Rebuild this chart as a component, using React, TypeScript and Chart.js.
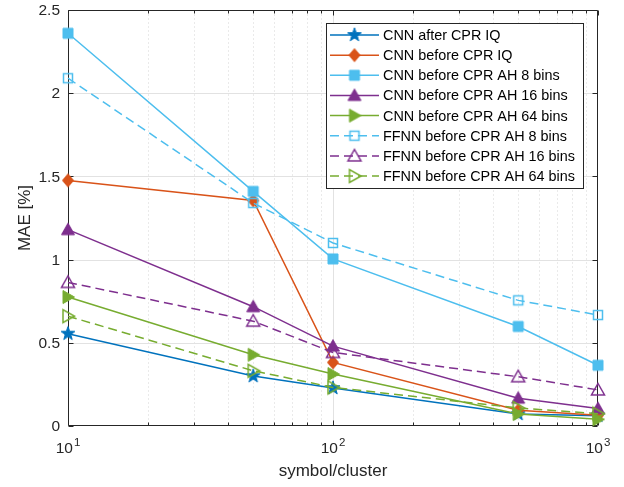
import React, { useEffect, useRef } from 'react';
import { Chart, registerables } from 'chart.js';

Chart.register(...registerables);

// ---------- data ----------
const xValues = [10, 50, 100, 500, 1000];

const seriesLabels = [
  'CNN after CPR IQ',
  'CNN before CPR IQ',
  'CNN before CPR AH 8 bins',
  'CNN before CPR AH 16 bins',
  'CNN before CPR AH 64 bins',
  'FFNN before CPR AH 8 bins',
  'FFNN before CPR AH 16 bins',
  'FFNN before CPR AH 64 bins',
];

const cnnAfterIQ = [0.555, 0.3, 0.228, 0.072, 0.062];
const cnnBeforeIQ = [1.476, 1.355, 0.382, 0.095, 0.064];
const cnnAH8 = [2.36, 1.41, 1.004, 0.598, 0.365];
const cnnAH16 = [1.18, 0.717, 0.48, 0.167, 0.105];
const cnnAH64 = [0.775, 0.428, 0.312, 0.072, 0.04];
const ffnnAH8 = [2.09, 1.34, 1.1, 0.755, 0.667];
const ffnnAH16 = [0.863, 0.63, 0.442, 0.296, 0.217];
const ffnnAH64 = [0.66, 0.332, 0.232, 0.108, 0.074];

const seriesValues = [cnnAfterIQ, cnnBeforeIQ, cnnAH8, cnnAH16, cnnAH64, ffnnAH8, ffnnAH16, ffnnAH64];

const yTicks = [0, 0.5, 1, 1.5, 2, 2.5];
const yTickLabels = ['0', '0.5', '1', '1.5', '2', '2.5'];
const xMajorTicks = [10, 100, 1000];
const xMajorExponents = ['1', '2', '3'];
const xMinorTicks = [20, 30, 40, 50, 60, 70, 80, 90, 200, 300, 400, 500, 600, 700, 800, 900];

const xTitle = 'symbol/cluster';
const yTitle = 'MAE [%]';

// ---------- styles ----------
const FONT = '"Liberation Sans", Arial, Helvetica, sans-serif';
const AXIS_COLOR = '#262626';
const seriesColors = ['#0072BD', '#D95319', '#4DBEEE', '#7E2F8E', '#77AC30', '#4DBEEE', '#7E2F8E', '#77AC30'];
const seriesMarkers = ['star', 'diamond', 'square', 'triUp', 'triRight', 'square', 'triUp', 'triRight'];
const seriesFilled = [true, true, true, true, true, false, false, false];
const seriesDashed = [false, false, false, false, false, true, true, true];
const DASH = [9, 5];

function makeMarker(kind: string, color: string, filled: boolean): HTMLCanvasElement {
  const size = 20;
  const c = document.createElement('canvas');
  c.width = size;
  c.height = size;
  const ctx = c.getContext('2d')!;
  const cx = size / 2;
  const cy = size / 2;
  ctx.beginPath();
  if (kind === 'star') {
    const ro = 7.2;
    const ri = 2.9;
    for (let i = 0; i < 10; i++) {
      const r = i % 2 === 0 ? ro : ri;
      const ang = -Math.PI / 2 + (i * Math.PI) / 5;
      const px = cx + r * Math.cos(ang);
      const py = cy + r * Math.sin(ang);
      if (i === 0) ctx.moveTo(px, py);
      else ctx.lineTo(px, py);
    }
    ctx.closePath();
  } else if (kind === 'diamond') {
    ctx.moveTo(cx, cy - 6.5);
    ctx.lineTo(cx + 5.5, cy);
    ctx.lineTo(cx, cy + 6.5);
    ctx.lineTo(cx - 5.5, cy);
    ctx.closePath();
  } else if (kind === 'square') {
    const h = filled ? 5 : 4.5;
    ctx.rect(cx - h, cy - h, 2 * h, 2 * h);
  } else if (kind === 'triUp') {
    ctx.moveTo(cx, cy - 6.5);
    ctx.lineTo(cx + 6.5, cy + 5);
    ctx.lineTo(cx - 6.5, cy + 5);
    ctx.closePath();
  } else if (kind === 'triRight') {
    ctx.moveTo(cx + 6.5, cy);
    ctx.lineTo(cx - 5, cy + 6.5);
    ctx.lineTo(cx - 5, cy - 6.5);
    ctx.closePath();
  }
  ctx.lineJoin = 'miter';
  if (filled) {
    ctx.fillStyle = color;
    ctx.fill();
    ctx.strokeStyle = color;
    ctx.lineWidth = 1;
    ctx.stroke();
  } else {
    ctx.strokeStyle = color;
    ctx.lineWidth = 1.5;
    ctx.stroke();
  }
  return c;
}

function drawPowerLabel(ctx: CanvasRenderingContext2D, cx: number, baseY: number, exp: string) {
  const baseFont = `15.5px ${FONT}`;
  const supFont = `11.5px ${FONT}`;
  ctx.font = baseFont;
  const wBase = ctx.measureText('10').width;
  ctx.font = supFont;
  const wSup = ctx.measureText(exp).width;
  const total = wBase + 1 + wSup;
  const x0 = cx - total / 2;
  ctx.textAlign = 'left';
  ctx.textBaseline = 'alphabetic';
  ctx.font = baseFont;
  ctx.fillText('10', x0, baseY);
  ctx.font = supFont;
  ctx.fillText(exp, x0 + wBase + 1, baseY - 7);
}

const matlabAxesPlugin = {
  id: 'matlabAxes',
  beforeDatasetsDraw(chart: any) {
    const { ctx, chartArea: a, scales } = chart;
    const x = scales.x;
    const y = scales.y;
    const L = Math.round(a.left) + 0.5;
    const R = Math.round(a.right) - 0.5;
    const T = Math.round(a.top) + 0.5;
    const B = Math.round(a.bottom) - 0.5;
    ctx.save();
    ctx.lineWidth = 1;

    // minor grid (dotted)
    ctx.strokeStyle = '#d4d4d4';
    ctx.setLineDash([1, 3]);
    ctx.beginPath();
    for (const v of xMinorTicks) {
      const px = Math.round(x.getPixelForValue(v)) + 0.5;
      ctx.moveTo(px, T);
      ctx.lineTo(px, B);
    }
    ctx.stroke();

    // major grid
    ctx.setLineDash([]);
    ctx.strokeStyle = '#e2e2e2';
    ctx.beginPath();
    for (const v of xMajorTicks) {
      const px = Math.round(x.getPixelForValue(v)) + 0.5;
      if (px <= L + 1 || px >= R - 1) continue;
      ctx.moveTo(px, T);
      ctx.lineTo(px, B);
    }
    for (const v of yTicks) {
      const py = Math.round(y.getPixelForValue(v)) + 0.5;
      if (py <= T + 1 || py >= B - 1) continue;
      ctx.moveTo(L, py);
      ctx.lineTo(R, py);
    }
    ctx.stroke();

    // frame
    ctx.strokeStyle = AXIS_COLOR;
    ctx.beginPath();
    ctx.rect(L, T, R - L, B - T);
    ctx.stroke();

    // tick marks (inward)
    ctx.beginPath();
    for (const v of yTicks) {
      const py = Math.round(y.getPixelForValue(v)) + 0.5;
      ctx.moveTo(L, py);
      ctx.lineTo(L + 5, py);
      ctx.moveTo(R, py);
      ctx.lineTo(R - 5, py);
    }
    for (const v of xMajorTicks) {
      const px = Math.round(x.getPixelForValue(v)) + 0.5;
      ctx.moveTo(px, B);
      ctx.lineTo(px, B - 5);
      ctx.moveTo(px, T);
      ctx.lineTo(px, T + 5);
    }
    for (const v of xMinorTicks) {
      const px = Math.round(x.getPixelForValue(v)) + 0.5;
      ctx.moveTo(px, B);
      ctx.lineTo(px, B - 3);
      ctx.moveTo(px, T);
      ctx.lineTo(px, T + 3);
    }
    ctx.stroke();

    // tick labels
    ctx.fillStyle = AXIS_COLOR;
    ctx.font = `15.5px ${FONT}`;
    ctx.textAlign = 'right';
    ctx.textBaseline = 'middle';
    yTicks.forEach((v, i) => {
      const py = y.getPixelForValue(v);
      ctx.fillText(yTickLabels[i], a.left - 8, py + 1);
    });
    xMajorTicks.forEach((v, i) => {
      const px = x.getPixelForValue(v);
      drawPowerLabel(ctx, px, a.bottom + 27, xMajorExponents[i]);
    });

    // axis titles
    ctx.font = `17px ${FONT}`;
    ctx.textAlign = 'center';
    ctx.textBaseline = 'middle';
    ctx.fillText(xTitle, (a.left + a.right) / 2, a.bottom + 45);
    ctx.save();
    ctx.translate(25, (a.top + a.bottom) / 2);
    ctx.rotate(-Math.PI / 2);
    ctx.fillText(yTitle, 0, 0);
    ctx.restore();

    ctx.restore();
  },
  afterDatasetsDraw(chart: any) {
    const { ctx, chartArea: a } = chart;
    const datasets = chart.data.datasets;
    const boxRight = a.right - 15;
    const boxTop = a.top + 13;
    const rowH = 20.15;
    const boxW = 257;
    const boxH = 165;
    const boxLeft = boxRight - boxW;
    ctx.save();
    ctx.fillStyle = '#ffffff';
    ctx.fillRect(boxLeft, boxTop, boxW, boxH);
    ctx.strokeStyle = AXIS_COLOR;
    ctx.lineWidth = 1;
    ctx.setLineDash([]);
    ctx.strokeRect(Math.round(boxLeft) + 0.5, Math.round(boxTop) + 0.5, Math.round(boxW), Math.round(boxH));
    ctx.font = `14.4px ${FONT}`;
    ctx.textAlign = 'left';
    ctx.textBaseline = 'middle';
    datasets.forEach((ds: any, i: number) => {
      const cy = boxTop + 12 + i * rowH;
      const x1 = boxLeft + 4;
      const x2 = boxLeft + 53;
      ctx.strokeStyle = ds.borderColor;
      ctx.lineWidth = ds.borderWidth;
      ctx.setLineDash(ds.borderDash || []);
      ctx.beginPath();
      ctx.moveTo(x1, cy);
      ctx.lineTo(x2, cy);
      ctx.stroke();
      ctx.setLineDash([]);
      const m = ds.pointStyle as HTMLCanvasElement;
      ctx.drawImage(m, (x1 + x2) / 2 - m.width / 2, cy - m.height / 2);
      ctx.fillStyle = '#000000';
      ctx.fillText(ds.label, boxLeft + 57, cy + 1);
    });
    ctx.restore();
  },
};

export default function App() {
  const canvasRef = useRef<HTMLCanvasElement | null>(null);

  useEffect(() => {
    const canvas = canvasRef.current;
    if (!canvas) return;
    const datasets = seriesLabels.map((label, i) => {
      const marker = makeMarker(seriesMarkers[i], seriesColors[i], seriesFilled[i]);
      return {
        label,
        data: xValues.map((xv, j) => ({ x: xv, y: seriesValues[i][j] })),
        borderColor: seriesColors[i],
        backgroundColor: seriesColors[i],
        borderWidth: 1.5,
        borderDash: seriesDashed[i] ? DASH : [],
        pointStyle: marker,
        pointRadius: 6,
        pointHoverRadius: 6,
        tension: 0,
        fill: false,
        clip: false as any,
        order: seriesLabels.length - i,
      };
    });

    const chart = new Chart(canvas, {
      type: 'line',
      data: { datasets },
      options: {
        responsive: false,
        animation: false,
        devicePixelRatio: 1,
        events: [],
        layout: { padding: { left: 68, right: 26, top: 10, bottom: 61 } },
        plugins: {
          legend: { display: false },
          tooltip: { enabled: false },
          title: { display: false },
        },
        scales: {
          x: { type: 'logarithmic', min: 10, max: 1000, display: false },
          y: { type: 'linear', min: 0, max: 2.5, display: false },
        },
      },
      plugins: [matlabAxesPlugin],
    });
    return () => chart.destroy();
  }, []);

  return (
    <div style={{ position: 'absolute', left: 0, top: 0, width: 624, height: 487, background: '#ffffff' }}>
      <canvas ref={canvasRef} width={624} height={487} style={{ display: 'block' }} />
    </div>
  );
}
